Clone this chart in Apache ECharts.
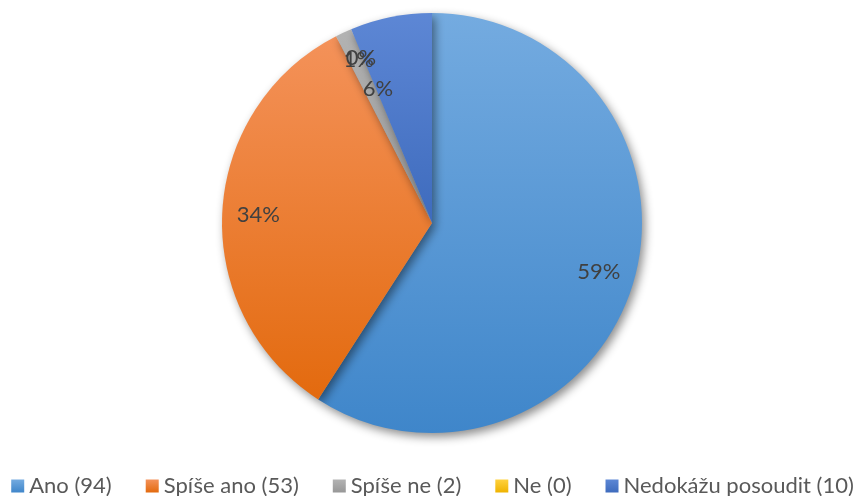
<!DOCTYPE html>
<html>
<head>
<meta charset="utf-8">
<script src="https://cdn.jsdelivr.net/npm/echarts@6/dist/echarts.min.js"></script>
<style>
html,body{margin:0;padding:0;background:#fff;}
#c{width:865px;height:496px;}
</style>
</head>
<body>
<div id="c"></div>
<script>
var categories = ['Ano (94)', 'Spíše ano (53)', 'Spíše ne (2)', 'Ne (0)', 'Nedokážu posoudit (10)'];
var values = [94, 53, 2, 0, 10];

var gradients = [
  ['#74abe0', '#3f86ca'],
  ['#f4925a', '#e36a0e'],
  ['#b3b3b3', '#979797'],
  ['#ffd23f', '#efb300'],
  ['#5d87d5', '#3e6bbd']
];
function grad(c) {
  return new echarts.graphic.LinearGradient(0, 0, 0, 1, [
    {offset: 0, color: c[0]}, {offset: 1, color: c[1]}
  ]);
}
var mainData = categories.map(function (n, i) {
  return {name: n, value: values[i], itemStyle: {color: grad(gradients[i])}};
});
var labelOffsets = [[0, 0], [0, 0], [0, -5], [-4, -5], [-20, 37]];
var labelData = categories.map(function (n, i) {
  return {name: n, value: values[i], label: {offset: labelOffsets[i]}};
});

var chart = echarts.init(document.getElementById('c'), null, {renderer: 'canvas'});
chart.setOption({
  animation: false,
  backgroundColor: '#ffffff',
  legend: {
    data: categories,
    bottom: -6,
    left: 'center',
    itemWidth: 13,
    itemHeight: 13,
    itemGap: 34,
    icon: 'rect',
    textStyle: {fontFamily: 'Lato', fontSize: 22, color: '#595959'}
  },
  series: [
    {
      type: 'pie',
      center: [432, 223],
      radius: [0, 210],
      startAngle: 90,
      clockwise: true,
      silent: true,
      label: {show: false},
      labelLine: {show: false},
      itemStyle: {
        shadowBlur: 10,
        shadowOffsetX: 3,
        shadowOffsetY: 4,
        shadowColor: 'rgba(0,0,0,0.45)'
      },
      data: mainData
    },
    {
      type: 'pie',
      center: [432, 223],
      radius: [132, 210],
      startAngle: 90,
      clockwise: true,
      silent: true,
      percentPrecision: 0,
      avoidLabelOverlap: false,
      stillShowZeroSum: true,
      minShowLabelAngle: -1,
      labelLayout: {hideOverlap: false},
      itemStyle: {color: 'rgba(0,0,0,0)'},
      label: {
        show: true,
        position: 'inside',
        formatter: '{d}%',
        fontFamily: 'Lato',
        fontSize: 22,
        color: '#404040'
      },
      labelLine: {show: false},
      data: labelData
    }
  ]
});
</script>
</body>
</html>
